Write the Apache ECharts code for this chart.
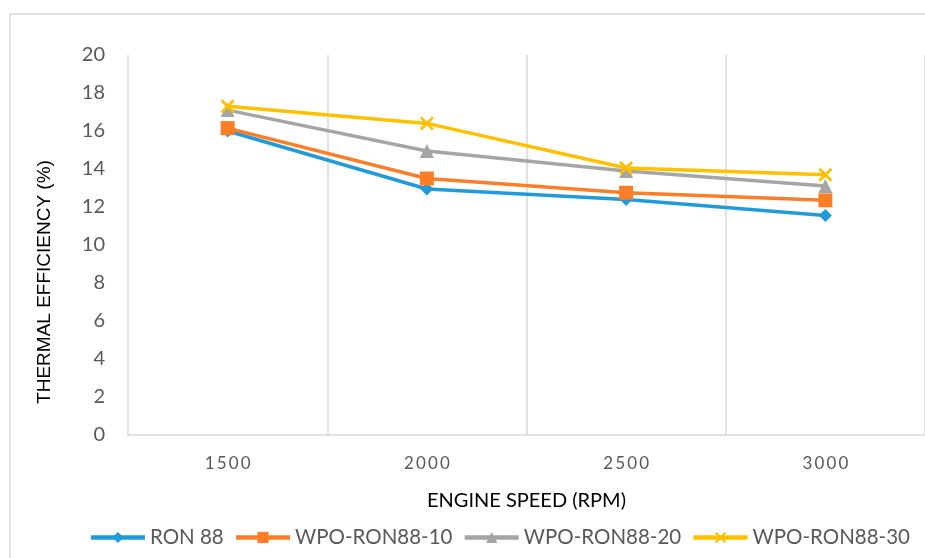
<!DOCTYPE html>
<html lang="en">
<head>
  <meta charset="UTF-8">
  <title>Thermal efficiency</title>
  <style>
    html, body { margin: 0; padding: 0; background: #fff; }
    #main { width: 925px; height: 558px; }
  </style>
</head>
<body>
  <div id="main"></div>
  <script src="https://cdn.jsdelivr.net/npm/echarts@6/dist/echarts.min.js"></script>
  <script>
    // 数据
    var speeds = ['1500', '2000', '2500', '3000'];
    var seriesNames = ['RON 88', 'WPO-RON88-10', 'WPO-RON88-20', 'WPO-RON88-30'];
    var ron88 = [16.0, 12.95, 12.4, 11.55];
    var wpo10 = [16.15, 13.5, 12.75, 12.35];
    var wpo20 = [17.1, 14.95, 13.9, 13.1];
    var wpo30 = [17.3, 16.4, 14.05, 13.7];
    var yTicks = [0, 20, 2]; // min, max, interval

    var colors = ['#1F9BDB', '#FB7E26', '#A5A5A5', '#FFC000'];
    var xPath = 'path://M0,1.4L1.4,0L5,3.6L8.6,0L10,1.4L6.4,5L10,8.6L8.6,10L5,6.4L1.4,10L0,8.6L3.6,5Z';
    var symbols = ['diamond', 'rect', 'triangle', xPath];
    var symbolSizes = [13, 14, 14, 14];
    var values = [ron88, wpo10, wpo20, wpo30];

    var myChart = echarts.init(document.getElementById('main'));

    var series = values.map(function (d, i) {
      return {
        name: seriesNames[i],
        type: 'line',
        data: d,
        symbol: symbols[i],
        symbolSize: symbolSizes[i],
        showAllSymbol: true,
        lineStyle: { width: 3.5, color: colors[i] },
        itemStyle: { color: colors[i] },
        z: 2 + i
      };
    });

    myChart.setOption({
      animation: false,
      color: colors,
      graphic: [{
        type: 'rect',
        shape: { x: 10, y: 14, width: 940, height: 580 },
        style: { fill: 'none', stroke: '#d9d9d9', lineWidth: 1.5 },
        silent: true
      }, {
        // y 轴标题
        type: 'text',
        x: 45,
        y: 282,
        rotation: Math.PI / 2,
        style: {
          text: 'THERMAL EFFICIENCY (%)',
          fontFamily: 'Liberation Sans',
          fontSize: 19,
          fill: '#000',
          align: 'center',
          verticalAlign: 'middle'
        },
        silent: true
      }],
      grid: { left: 128, right: 0, top: 55, bottom: 123 },
      legend: {
        data: seriesNames,
        top: 522,
        right: 10,
        itemWidth: 54,
        itemHeight: 14,
        itemGap: 10,
        lineStyle: { width: 4.5 },
        textStyle: { fontFamily: 'Lato', fontSize: 20.5, color: '#595959' }
      },
      xAxis: {
        type: 'category',
        data: speeds,
        boundaryGap: true,
        name: 'ENGINE SPEED (RPM)',
        nameLocation: 'middle',
        nameGap: 56,
        nameTextStyle: { fontFamily: 'Lato', fontSize: 20, color: '#000' },
        axisLine: { lineStyle: { color: '#d9d9d9', width: 1.5 } },
        axisTick: { show: false },
        axisLabel: {
          margin: 20,
          fontFamily: 'Lato',
          fontSize: 17,
          color: '#595959',
          formatter: function (v) { return v.split('').join('\u2009'); }
        },
        splitLine: { show: true, lineStyle: { color: '#d9d9d9', width: 1.5 } }
      },
      yAxis: {
        type: 'value',
        min: yTicks[0],
        max: yTicks[1],
        interval: yTicks[2],
        axisLine: { show: false },
        axisTick: { show: false },
        splitLine: { show: false },
        axisLabel: { margin: 23, fontFamily: 'Lato', fontSize: 20, color: '#595959' }
      },
      series: series
    });
  </script>
</body>
</html>
